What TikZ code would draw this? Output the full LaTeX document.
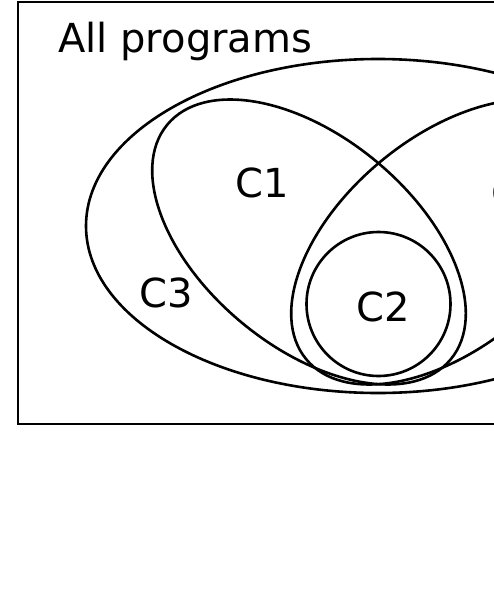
\documentclass[tikz,border=0pt]{standalone}
\usepackage{fontspec}
\setmainfont{DejaVu Sans}
\usepackage{tikz}
\usetikzlibrary{positioning}
\newcommand{\setoval}[4]% center, angle, xdim, ydim
{[rotate around={#2:(#1)}] (#1) ellipse (#3 and #4)
}

\begin{document}
\begin{tikzpicture}[x=1pt,y=-1pt,line width=2.6pt]
\tikzstyle{lbl}=[inner sep=0pt,font=\fontsize{40}{48}\selectfont]

\useasboundingbox (0,0) rectangle (494,608);
\clip (0,0) rectangle (494,608);

% box for all programs
\draw (18,2) rectangle (760,424);
\draw (57,52) node[lbl,anchor=base west] (all) {All programs}; % all

% big oval C3
\draw (378,226) ellipse (292 and 167);
\draw (166.5,293) node[lbl] (C3) {C3}; % C3

% tilted ovals
\draw \setoval{309,242}{-39.6}{184}{105}; % C1
\draw (262.5,183) node[lbl] (C1) {C1}; % C1
\draw \setoval{448,242}{39.6}{184}{105}; % C4
\draw (490,193) node[lbl,anchor=west] (C4) {C4}; % C4

% small circle C2
\draw (378.5,304) circle (72);
\draw (383,307) node[lbl] (C2) {C2}; % C2
\end{tikzpicture}
\end{document}
